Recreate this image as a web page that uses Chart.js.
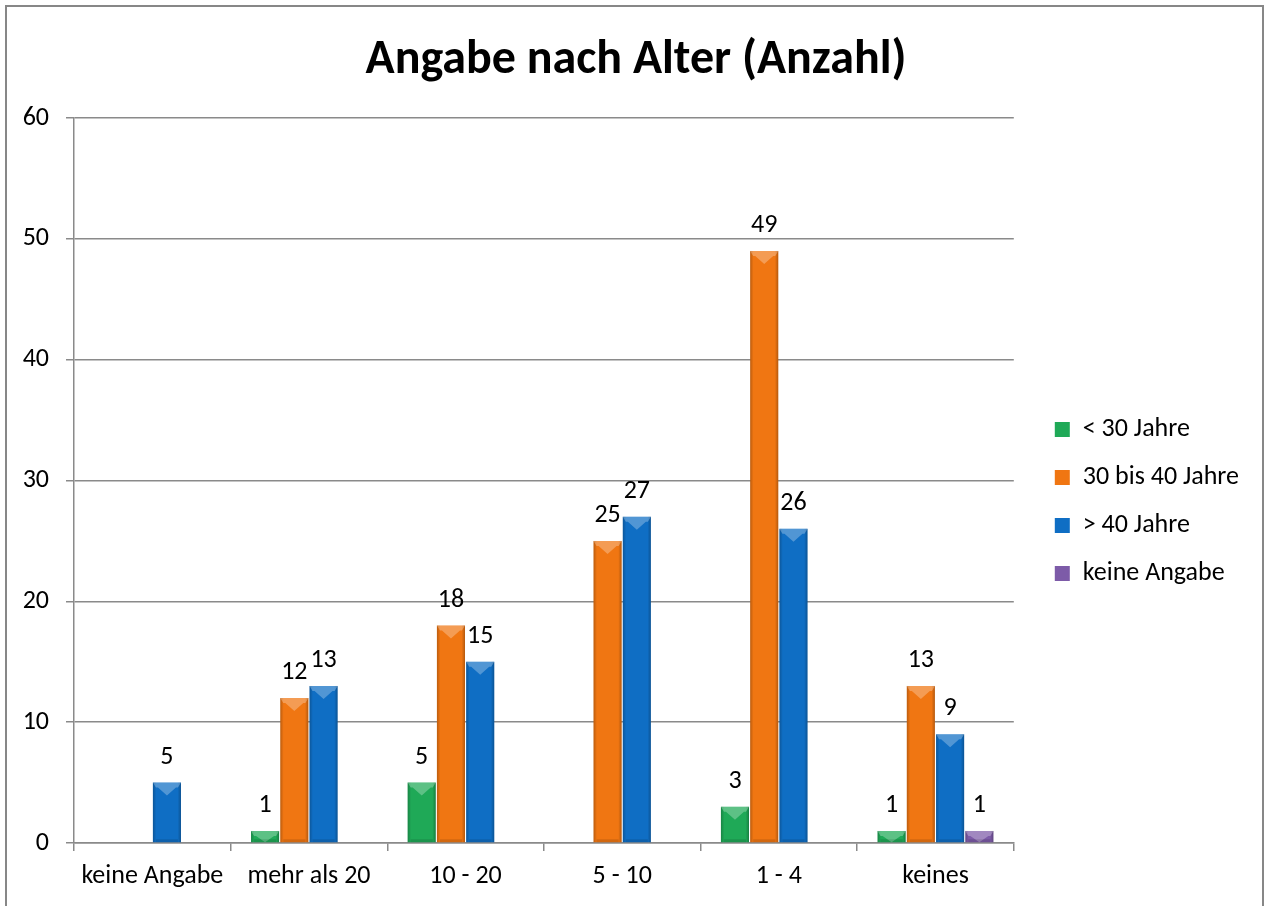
<!DOCTYPE html>
<html><head><meta charset="utf-8">
<script src="https://cdn.jsdelivr.net/npm/chart.js@4"></script>
<style>
html,body{margin:0;padding:0;background:#fff;overflow:hidden;width:1266px;height:906px}
#frame{position:absolute;left:5px;top:5px;width:1259px;height:1000px;border:2px solid #878787;box-sizing:border-box;}
#c{position:absolute;left:0;top:0}
</style></head><body>
<div id="frame"></div>
<canvas id="c" width="1266" height="906"></canvas>
<script>
const categories = ['keine Angabe', 'mehr als 20', '10 - 20', '5 - 10', '1 - 4', 'keines'];
const seriesNames = ['< 30 Jahre', '30 bis 40 Jahre', '> 40 Jahre', 'keine Angabe'];
const under30 = [null, 1, 5, null, 3, 1];
const from30to40 = [null, 12, 18, 25, 49, 13];
const over40 = [5, 13, 15, 27, 26, 9];
const noAnswer = [null, null, null, null, null, 1];
const yMin = 0, yMax = 60, yStep = 10;
const titleText = 'Angabe nach Alter (Anzahl)';
const seriesColors = ['#1fa957', '#f07612', '#0f6ec4', '#7d5ba8'];

const FONT = "Carlito, Lato, 'Open Sans', sans-serif";
const GRID = '#8a8a8a';
const LABEL_SIZE = 26;

const seriesData = [under30, from30to40, over40, noAnswer];

const bevelPlugin = {
  id: 'bevel',
  afterDatasetDraw(chart, args) {
    const ctx = chart.ctx;
    const meta = args.meta;
    ctx.save();
    meta.data.forEach((bar, i) => {
      const v = chart.data.datasets[args.index].data[i];
      if (v === null || v === undefined) return;
      const w = bar.width, x0 = bar.x - w / 2, x1 = bar.x + w / 2;
      const y0 = bar.y, yb = bar.base;
      const h = yb - y0;
      const g = ctx.createLinearGradient(x0, 0, x1, 0);
      g.addColorStop(0, 'rgba(0,0,0,0.22)');
      g.addColorStop(0.12, 'rgba(0,0,0,0.0)');
      g.addColorStop(0.88, 'rgba(0,0,0,0.0)');
      g.addColorStop(1, 'rgba(0,0,0,0.25)');
      ctx.fillStyle = g;
      ctx.fillRect(x0, y0, w, h);
      const bh = Math.min(5, h / 2);
      ctx.fillStyle = 'rgba(255,255,255,0.28)';
      ctx.beginPath();
      ctx.moveTo(x0, y0);
      ctx.lineTo(x1, y0);
      ctx.lineTo(x1 - 3, y0 + bh);
      ctx.lineTo(bar.x + w * 0.32, y0 + bh);
      ctx.lineTo(bar.x, y0 + Math.min(13, h));
      ctx.lineTo(bar.x - w * 0.32, y0 + bh);
      ctx.lineTo(x0 + 3, y0 + bh);
      ctx.closePath();
      ctx.fill();
      ctx.fillStyle = 'rgba(0,0,0,0.12)';
      ctx.fillRect(x0 + 3, yb - 3, w - 6, 3);
    });
    ctx.restore();
  }
};

const valueLabels = {
  id: 'valueLabels',
  afterDatasetsDraw(chart) {
    const ctx = chart.ctx;
    ctx.save();
    ctx.font = LABEL_SIZE + 'px ' + FONT;
    ctx.fillStyle = '#000';
    ctx.textAlign = 'center';
    ctx.textBaseline = 'alphabetic';
    chart.data.datasets.forEach((ds, di) => {
      const meta = chart.getDatasetMeta(di);
      meta.data.forEach((bar, i) => {
        const v = ds.data[i];
        if (v === null || v === undefined) return;
        ctx.fillText(String(v), bar.x, bar.y - 19);
      });
    });
    ctx.restore();
  }
};

const boxShift = {
  id: 'boxShift',
  afterLayout(chart) {
    const lg = chart.legend;
    if (lg) { lg.left += 19; lg.right += 19; }
    const tb = chart.titleBlock;
    if (tb) {
      const d = 636 - (tb.left + tb.right) / 2;
      tb.left += d; tb.right += d;
    }
  }
};

new Chart(document.getElementById('c'), {
  type: 'bar',
  data: {
    labels: categories,
    datasets: seriesNames.map((name, k) => ({
      label: name,
      data: seriesData[k],
      backgroundColor: seriesColors[k],
      borderWidth: 0,
      categoryPercentage: 0.747,
      barPercentage: 0.96
    }))
  },
  options: {
    responsive: false,
    animation: false,
    layout: { padding: { left: 0, right: 36, top: 0, bottom: 0 } },
    plugins: {
      title: {
        display: true,
        text: titleText,
        color: '#000',
        font: { family: FONT, size: 48, weight: 'bold' },
        padding: { top: 32, bottom: 28.4 }
      },
      legend: {
        position: 'right',
        align: 'center',
        title: { display: true, text: ' ', font: { size: 1 }, padding: 48 },
        labels: {
          color: '#000',
          font: { family: FONT, size: LABEL_SIZE },
          boxWidth: 15,
          boxHeight: 15,
          padding: 22
        }
      },
      tooltip: { enabled: false }
    },
    scales: {
      x: {
        offset: true,
        grid: { offset: true, drawOnChartArea: false, drawTicks: true, tickLength: 8, color: GRID, lineWidth: 1.5 },
        border: { display: true, color: GRID, width: 1.5 },
        ticks: { color: '#000', font: { family: FONT, size: LABEL_SIZE }, padding: 10, maxRotation: 0 },
        afterFit(scale) { scale.height = 63; }
      },
      y: {
        min: yMin, max: yMax,
        ticks: { stepSize: yStep, color: '#000', font: { family: FONT, size: LABEL_SIZE }, padding: 17 },
        grid: { color: GRID, lineWidth: 1.5, tickLength: 8, drawTicks: true },
        border: { display: true, color: GRID, width: 1.5 },
        afterFit(scale) { scale.width = 74; }
      }
    }
  },
  plugins: [bevelPlugin, valueLabels, boxShift]
});
</script>
</body></html>
